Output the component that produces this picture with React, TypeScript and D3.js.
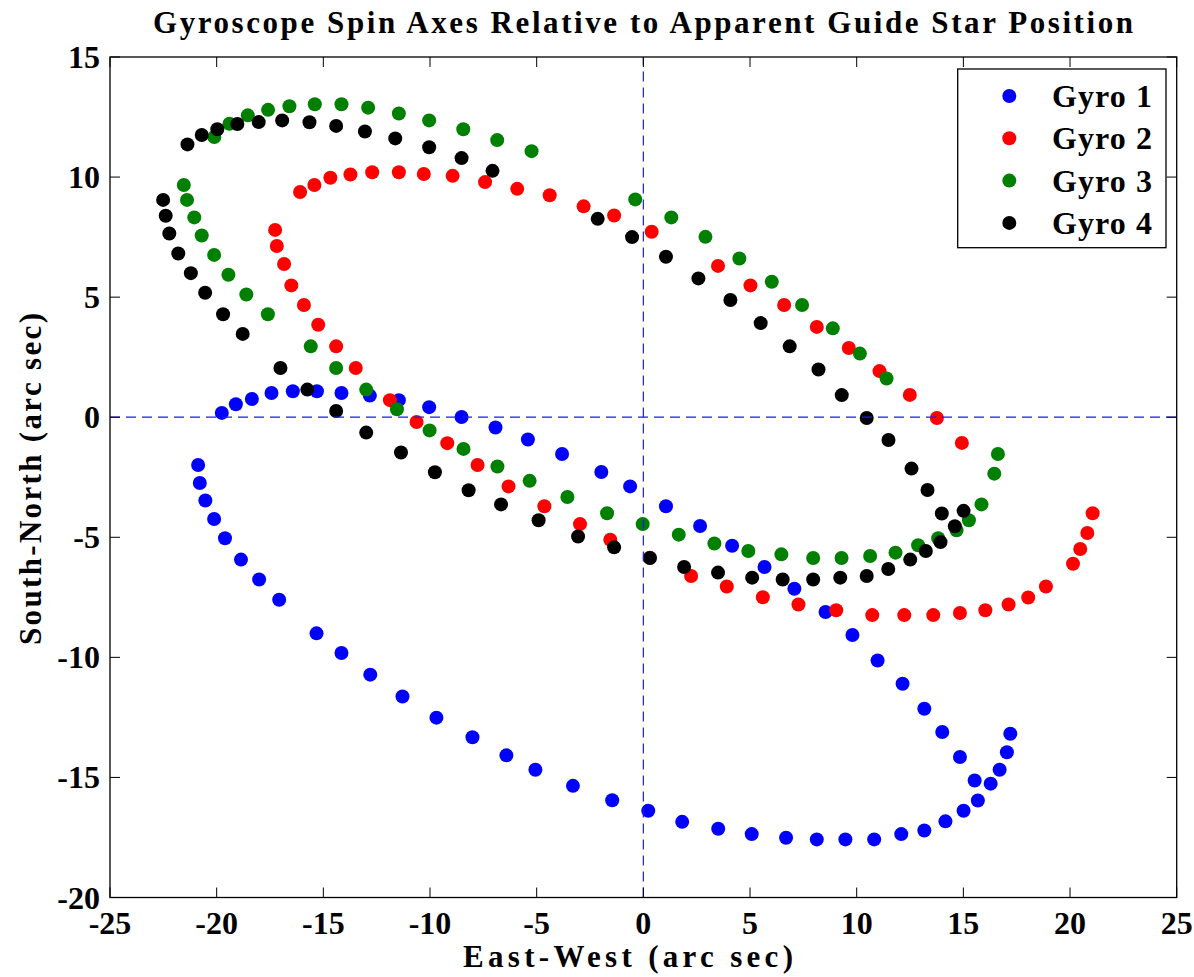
import React from "react";
import * as d3 from "d3";

const X_TICKS = [-25, -20, -15, -10, -5, 0, 5, 10, 15, 20, 25];
const Y_TICKS = [-20, -15, -10, -5, 0, 5, 10, 15];

const SERIES_NAMES = ["Gyro 1", "Gyro 2", "Gyro 3", "Gyro 4"];
const SERIES_COLORS = ["#0000ff", "#ff0000", "#008000", "#000000"];

const gyro1: [number, number][] = [
  [-19.76, 0.18], [-19.1, 0.54], [-18.35, 0.76], [-17.43, 1.01], [-16.43, 1.08], [-15.3, 1.08],
  [-14.15, 1.01], [-12.82, 0.9], [-11.46, 0.71], [-10.04, 0.42], [-8.52, 0.01], [-6.93, -0.43],
  [-5.41, -0.93], [-3.81, -1.53], [-1.97, -2.28], [-0.62, -2.88], [1.06, -3.71], [2.66, -4.53],
  [4.16, -5.35], [5.68, -6.24], [7.08, -7.14], [8.54, -8.11], [9.8, -9.07], [10.98, -10.13],
  [12.15, -11.1], [13.17, -12.14], [14.01, -13.11], [14.84, -14.15], [15.53, -15.13],
  [17.2, -13.18], [17.04, -13.95], [16.7, -14.68], [16.28, -15.26], [15.68, -15.96], [15.01, -16.39],
  [14.16, -16.83], [13.17, -17.21], [12.09, -17.36], [10.82, -17.58], [9.47, -17.58], [8.13, -17.58],
  [6.69, -17.51], [5.08, -17.36], [3.51, -17.14], [1.82, -16.85], [0.23, -16.39], [-1.46, -15.95],
  [-3.3, -15.35], [-5.06, -14.68], [-6.42, -14.08], [-8.01, -13.33], [-9.7, -12.51], [-11.29, -11.63],
  [-12.8, -10.72], [-14.15, -9.82], [-15.32, -9.0], [-17.07, -7.6], [-18.01, -6.76], [-18.86, -5.93],
  [-19.61, -5.04], [-20.12, -4.24], [-20.53, -3.47], [-20.79, -2.74], [-20.87, -1.99],
];

const gyro2: [number, number][] = [
  [-16.09, 9.38], [-15.42, 9.67], [-14.67, 9.97], [-13.73, 10.11], [-12.71, 10.2], [-11.46, 10.2],
  [-10.29, 10.13], [-8.94, 10.05], [-7.42, 9.79], [-5.91, 9.51], [-4.39, 9.24], [-2.8, 8.78],
  [-1.37, 8.4], [0.39, 7.72], [3.5, 6.3], [5.02, 5.49], [6.6, 4.67], [8.13, 3.76], [9.63, 2.88],
  [11.07, 1.92], [12.49, 0.93], [13.76, -0.03], [14.93, -1.07],
  [-17.26, 7.8], [-17.18, 7.13], [-16.84, 6.38], [-16.5, 5.49], [-15.91, 4.67], [-15.24, 3.85],
  [-14.4, 2.95], [-13.48, 2.05], [-11.88, 0.71], [-10.63, -0.2], [-9.19, -1.08], [-7.77, -1.99],
  [-6.32, -2.88], [-4.64, -3.71], [-2.97, -4.45], [-1.55, -5.1], [0.3, -5.85], [2.24, -6.61],
  [3.91, -7.05], [5.6, -7.5], [7.27, -7.8], [9.04, -8.04], [10.73, -8.24], [12.23, -8.24],
  [13.59, -8.24], [14.84, -8.15], [16.03, -8.04], [17.12, -7.8], [18.04, -7.51], [18.87, -7.05],
  [20.14, -6.1], [20.48, -5.49], [20.81, -4.82], [21.06, -4.0],
];

const gyro3: [number, number][] = [
  [-20.11, 11.67], [-19.4, 12.22], [-18.54, 12.57], [-17.59, 12.8], [-16.59, 12.95], [-15.4, 13.03],
  [-14.15, 13.03], [-12.9, 12.89], [-11.46, 12.65], [-10.04, 12.36], [-8.44, 11.99], [-6.85, 11.54],
  [-5.24, 11.08], [-0.38, 9.07], [1.31, 8.32], [2.91, 7.51], [4.5, 6.61], [6.02, 5.64], [7.44, 4.67],
  [8.88, 3.7], [10.15, 2.65], [11.4, 1.61],
  [-21.54, 9.67], [-21.39, 9.05], [-21.05, 8.32], [-20.7, 7.57], [-20.12, 6.76], [-19.45, 5.93],
  [-18.61, 5.11], [-17.6, 4.29], [-15.59, 2.95], [-14.4, 2.05], [-12.99, 1.15], [-11.55, 0.33],
  [-10.02, -0.55], [-8.43, -1.32], [-6.84, -2.05], [-5.33, -2.65], [-3.56, -3.32], [-1.7, -4.0],
  [-0.03, -4.45], [1.66, -4.89], [3.33, -5.26], [4.92, -5.57], [6.47, -5.71], [7.96, -5.86],
  [9.29, -5.86], [10.63, -5.78], [11.82, -5.64], [12.88, -5.33], [13.82, -5.04], [14.68, -4.71],
  [15.26, -4.29], [15.85, -3.63], [16.45, -2.35], [16.62, -1.53],
];

const gyro4: [number, number][] = [
  [-21.37, 11.36], [-20.7, 11.75], [-19.97, 11.99], [-19.03, 12.21], [-18.03, 12.29], [-16.93, 12.36],
  [-15.65, 12.28], [-14.4, 12.13], [-13.05, 11.9], [-11.63, 11.61], [-10.04, 11.24], [-8.52, 10.79],
  [-7.07, 10.26], [-2.14, 8.26], [-0.53, 7.5], [1.06, 6.68], [2.58, 5.78], [4.08, 4.88], [5.5, 3.92],
  [6.86, 2.95], [8.21, 1.99], [9.3, 0.92], [10.47, -0.03], [11.49, -0.95], [12.57, -2.14],
  [13.32, -3.03], [13.99, -4.01], [15.01, -3.9], [14.6, -4.54], [13.93, -5.2], [13.24, -5.57],
  [12.51, -5.93], [11.48, -6.32], [10.47, -6.61], [9.23, -6.68], [7.96, -6.76], [6.53, -6.76],
  [5.1, -6.68], [3.5, -6.47], [1.91, -6.24], [0.31, -5.86], [-1.37, -5.42], [-3.06, -4.97],
  [-4.91, -4.29], [-6.67, -3.63], [-8.19, -3.04], [-9.77, -2.29], [-11.36, -1.47], [-12.99, -0.64],
  [-14.4, 0.26], [-15.75, 1.15], [-17.01, 2.05],
  [-22.51, 9.05], [-22.39, 8.39], [-22.22, 7.65], [-21.8, 6.82], [-21.21, 6.0], [-20.54, 5.18],
  [-19.7, 4.29], [-18.78, 3.47],
];

const SERIES = [gyro1, gyro2, gyro3, gyro4];

const W = 1194;
const H = 977;
const FONT = "'Liberation Serif', 'Times New Roman', serif";

export default function App() {
  const x = d3.scaleLinear().domain([-25, 25]).range([110, 1176.7]);
  const y = d3.scaleLinear().domain([-20, 15]).range([897.5, 57]);
  const [x0, x1] = x.range();
  const [y0, y1] = y.range();
  const tickLen = 10;
  const r = 7;

  return (
    <svg
      width={W}
      height={H}
      style={{ position: "absolute", left: 0, top: 0, background: "#fff" }}
      fontFamily={FONT}
      fontWeight="bold"
    >
      <rect x={0} y={0} width={W} height={H} fill="#fff" />
      {/* title */}
      <text x={643} y={33} textAnchor="middle" fontSize={31} textLength={980} lengthAdjust="spacing">
        Gyroscope Spin Axes Relative to Apparent Guide Star Position
      </text>

      {/* points */}
      {SERIES.map((pts, si) => (
        <g key={si} fill={SERIES_COLORS[si]}>
          {pts.map((p, i) => (
            <circle key={i} cx={x(p[0])} cy={y(p[1])} r={r} />
          ))}
        </g>
      ))}

      {/* dashed zero lines */}
      <line x1={x(0)} x2={x(0)} y1={y0} y2={y1} stroke="#1a1aff" strokeWidth={1.2} strokeDasharray="10,6" />
      <line x1={x0} x2={x1} y1={y(0)} y2={y(0)} stroke="#1a1aff" strokeWidth={1.2} strokeDasharray="10,6" />

      {/* axes box */}
      <rect x={x0} y={y1} width={x1 - x0} height={y0 - y1} fill="none" stroke="#000" strokeWidth={1.3} />

      {/* x ticks */}
      {X_TICKS.map((t) => (
        <g key={"xt" + t}>
          <line x1={x(t)} x2={x(t)} y1={y0} y2={y0 - tickLen} stroke="#000" strokeWidth={1} />
          <line x1={x(t)} x2={x(t)} y1={y1} y2={y1 + tickLen} stroke="#000" strokeWidth={1} />
          <text x={x(t)} y={934} textAnchor="middle" fontSize={32}>
            {t}
          </text>
        </g>
      ))}
      {/* y ticks */}
      {Y_TICKS.map((t) => (
        <g key={"yt" + t}>
          <line x1={x0} x2={x0 + tickLen} y1={y(t)} y2={y(t)} stroke="#000" strokeWidth={1} />
          <line x1={x1} x2={x1 - tickLen} y1={y(t)} y2={y(t)} stroke="#000" strokeWidth={1} />
          <text x={100} y={y(t) + 11} textAnchor="end" fontSize={32}>
            {t}
          </text>
        </g>
      ))}

      {/* axis labels */}
      <text x={628} y={967} textAnchor="middle" fontSize={31} textLength={330} lengthAdjust="spacing">
        East-West (arc sec)
      </text>
      <text
        transform={`translate(41,479) rotate(-90)`}
        textAnchor="middle"
        fontSize={31}
        textLength={332}
        lengthAdjust="spacing"
      >
        South-North (arc sec)
      </text>

      {/* legend */}
      <rect x={957.7} y={69} width={208.3} height={178.7} fill="#fff" stroke="#000" strokeWidth={1.3} />
      {SERIES_NAMES.map((name, i) => {
        const cy = 96 + i * 42.3;
        return (
          <g key={name}>
            <circle cx={1009.3} cy={cy} r={r} fill={SERIES_COLORS[i]} />
            <text x={1052} y={cy + 11} fontSize={32} textLength={100} lengthAdjust="spacing">
              {name}
            </text>
          </g>
        );
      })}
    </svg>
  );
}
